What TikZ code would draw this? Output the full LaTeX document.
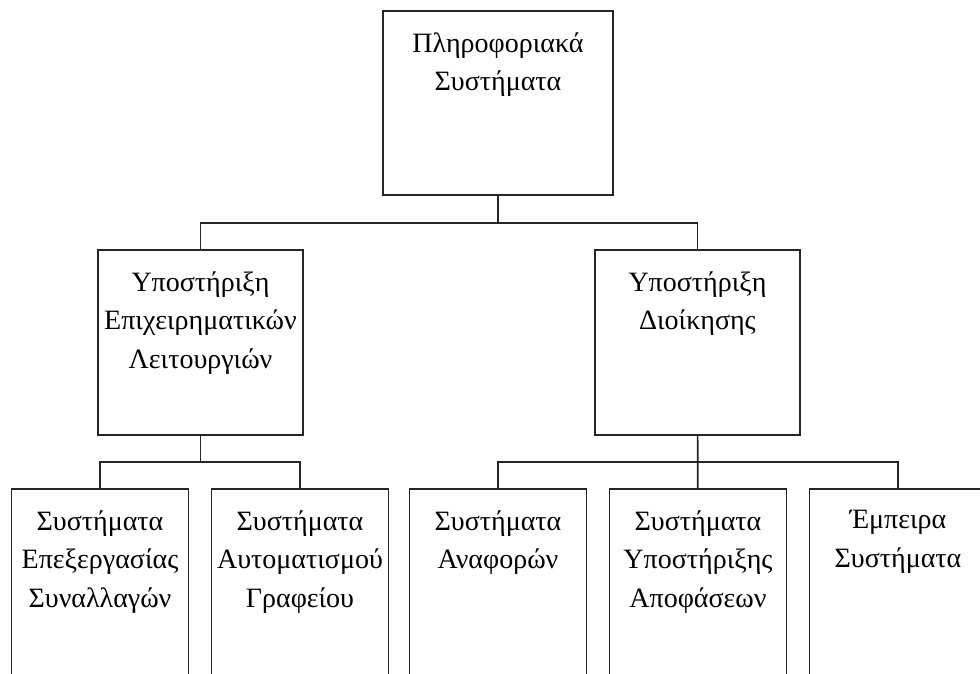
\documentclass[tikz,border=0pt]{standalone}
\usepackage{fontspec}
\setmainfont{Liberation Serif}
\usetikzlibrary{positioning}

\begin{document}
\begin{tikzpicture}[x=1pt, y=-1pt,
  box/.style={draw=black!85, line width=1.6pt, inner sep=0pt},
  lbl/.style={anchor=north, align=center, inner sep=0pt, font=\fontsize{28}{38.5}\selectfont},
  conn/.style={draw=black!85, line width=1.6pt}]
\useasboundingbox (0,0) rectangle (980,673);
\clip (0,0) rectangle (980,673);
% top level
\node[box, minimum width=230pt, minimum height=184pt] (info) at (498,103) {};
\node[lbl, below=22pt of info.north] (infot) {Πληροφοριακά\\Συστήματα};
% second level
\node[box, minimum width=205pt, minimum height=185pt] (bizsup) at (200.5,342.5) {};
\node[lbl, below=22pt of bizsup.north] (bizsupt) {Υποστήριξη\\Επιχειρηματικών\\Λειτουργιών};
\node[box, minimum width=205pt, minimum height=185pt] (mgmt) at (697.5,342.5) {};
\node[lbl, below=22pt of mgmt.north] (mgmtt) {Υποστήριξη\\Διοίκησης};
% third level
\node[box, minimum width=177pt, minimum height=211pt] (tps) at (100,594.5) {};
\node[lbl, below=22pt of tps.north] (tpst) {Συστήματα\\Επεξεργασίας\\Συναλλαγών};
\node[box, minimum width=177pt, minimum height=211pt] (oas) at (300,594.5) {};
\node[lbl, below=22pt of oas.north] (oast) {Συστήματα\\Αυτοματισμού\\Γραφείου};
\node[box, minimum width=177pt, minimum height=211pt] (mrs) at (498,594.5) {};
\node[lbl, below=22pt of mrs.north] (mrst) {Συστήματα\\Αναφορών};
\node[box, minimum width=177pt, minimum height=211pt] (dss) at (698,594.5) {};
\node[lbl, below=22pt of dss.north] (dsst) {Συστήματα\\Υποστήριξης\\Αποφάσεων};
\node[box, minimum width=177pt, minimum height=211pt] (es) at (898,594.5) {};
\node[lbl, below=22pt of es.north] (est) {Έμπειρα\\Συστήματα};
% connectors
\coordinate (topbus) at (498,223);
\coordinate (bizbus) at (200.5,462);
\coordinate (mgmtbus) at (697.5,462);
\draw[conn] (info) -- (topbus);
\draw[conn] (bizsup.north) |- (topbus) -| (mgmt.north);
\draw[conn] (bizsup) -- (bizbus);
\draw[conn] (tps.north) |- (bizbus) -| (oas.north);
\draw[conn] (mgmt) -- (dss);
\draw[conn] (mrs.north) |- (mgmtbus) -| (es.north);
\end{tikzpicture}
\end{document}
